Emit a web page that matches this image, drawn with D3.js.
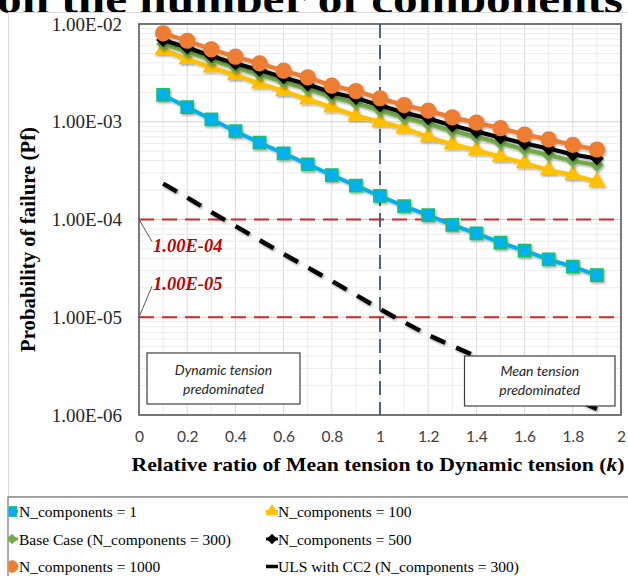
<!DOCTYPE html>
<html>
<head>
<meta charset="utf-8">
<script src="https://cdn.jsdelivr.net/npm/d3@7"></script>
<style>
  html, body { margin: 0; padding: 0; background: #fff; }
  svg { display: block; }
</style>
</head>
<body>
<svg id="chart" width="628" height="576"></svg>
<script>
// Relative ratio k = mean tension / dynamic tension
const kValues = [0.1, 0.2, 0.3, 0.4, 0.5, 0.6, 0.7, 0.8, 0.9, 1.0,
                 1.1, 1.2, 1.3, 1.4, 1.5, 1.6, 1.7, 1.8, 1.9];

// Probability of failure for each number of components
const pfN1    = [1.88e-3, 1.41e-3, 1.06e-3, 8.0e-4, 6.1e-4, 4.75e-4, 3.67e-4, 2.85e-4, 2.22e-4, 1.74e-4,
                 1.37e-4, 1.11e-4, 8.8e-5, 7.2e-5, 5.8e-5, 4.8e-5, 3.9e-5, 3.3e-5, 2.7e-5];
const pfN100  = [5.42e-3, 4.39e-3, 3.61e-3, 3.01e-3, 2.47e-3, 2.06e-3, 1.70e-3, 1.41e-3, 1.15e-3, 1.0e-3,
                 8.6e-4, 7.0e-4, 5.9e-4, 5.1e-4, 4.4e-4, 3.76e-4, 3.21e-4, 2.85e-4, 2.44e-4];
const pfBase  = [6.24e-3, 5.23e-3, 4.28e-3, 3.59e-3, 3.04e-3, 2.55e-3, 2.16e-3, 1.79e-3, 1.55e-3, 1.30e-3,
                 1.105e-3, 9.48e-4, 8.04e-4, 6.98e-4, 6.06e-4, 5.20e-4, 4.57e-4, 3.97e-4, 3.61e-4];
const pfN500  = [6.86e-3, 5.75e-3, 4.71e-3, 3.94e-3, 3.38e-3, 2.84e-3, 2.40e-3, 1.99e-3, 1.75e-3, 1.47e-3,
                 1.24e-3, 1.08e-3, 9.15e-4, 7.95e-4, 6.90e-4, 5.99e-4, 5.32e-4, 4.62e-4, 4.21e-4];
const pfN1000 = [8.03e-3, 6.74e-3, 5.51e-3, 4.63e-3, 3.96e-3, 3.33e-3, 2.85e-3, 2.34e-3, 2.06e-3, 1.74e-3,
                 1.48e-3, 1.30e-3, 1.11e-3, 9.8e-4, 8.6e-4, 7.4e-4, 6.6e-4, 5.8e-4, 5.2e-4];
const pfULS   = [2.33e-4, 1.68e-4, 1.19e-4, 8.58e-5, 6.16e-5, 4.43e-5, 3.23e-5, 2.35e-5, 1.69e-5, 1.21e-5,
                 8.9e-6, 6.58e-6, 5.08e-6, 3.97e-6, 3.10e-6, 2.42e-6, 1.89e-6, 1.49e-6, 1.15e-6];

const seriesNames = ["N_components = 1", "N_components = 100", "Base Case (N_components = 300)",
                     "N_components = 500", "N_components = 1000", "ULS with CC2 (N_components = 300)"];

// Target reliability thresholds
const thresholdValues = [1e-4, 1e-5];
const thresholdLabels = ["1.00E-04", "1.00E-05"];

// Axis ticks
const xTickValues = [0, 0.2, 0.4, 0.6, 0.8, 1, 1.2, 1.4, 1.6, 1.8, 2];
const xTickLabels = ["0", "0.2", "0.4", "0.6", "0.8", "1", "1.2", "1.4", "1.6", "1.8", "2"];
const yTickValues = [1e-2, 1e-3, 1e-4, 1e-5, 1e-6];
const yTickLabels = ["1.00E-02", "1.00E-03", "1.00E-04", "1.00E-05", "1.00E-06"];

const kSplit = 1;
const regionLabels = [["Dynamic tension", "predominated"], ["Mean tension", "predominated"]];

const titleText = "on the number of components";
const xTitle = "Relative ratio of Mean tension to Dynamic tension (";
const yTitle = "Probability of failure (Pf)";

// ---------------------------------------------------------------------------
const SERIF = "'Liberation Serif', 'Times New Roman', serif";
const SANS = "Lato, 'Open Sans', sans-serif";

const svg = d3.select("#chart");
const plot = { left: 139, right: 621, top: 24, bottom: 415 };

const x = d3.scaleLinear().domain([0, 2]).range([plot.left, plot.right]);
const y = d3.scaleLog().domain([1e-6, 1e-2]).range([plot.bottom, plot.top]);

const defs = svg.append("defs");
const shadow = defs.append("filter").attr("id", "shadow")
  .attr("x", "-20%").attr("y", "-20%").attr("width", "140%").attr("height", "140%");
shadow.append("feDropShadow").attr("dx", 1.2).attr("dy", 1.5)
  .attr("stdDeviation", 1.1).attr("flood-color", "#000").attr("flood-opacity", 0.35);

// Heading line above the chart
svg.append("text")
  .attr("x", -3).attr("y", 13)
  .attr("font-family", SERIF).attr("font-weight", "bold").attr("font-size", 42)
  .attr("textLength", 626).attr("lengthAdjust", "spacingAndGlyphs")
  .attr("fill", "#000")
  .text(titleText);

// Chart frame
svg.append("rect")
  .attr("x", 8.5).attr("y", 12.5).attr("width", 700).attr("height", 484)
  .attr("fill", "#fff").attr("stroke", "#d9d9d9").attr("stroke-width", 1);

// Gridlines
const grid = svg.append("g");
const xMinor = d3.range(1, 20).map(i => i / 10);
grid.selectAll("line.vx").data(xMinor).join("line")
  .attr("x1", d => x(d)).attr("x2", d => x(d))
  .attr("y1", plot.top).attr("y2", plot.bottom)
  .attr("stroke", (d, i) => (i % 2 === 1) ? "#d9d9d9" : "#ececec")
  .attr("stroke-width", 1);

const yMinor = y.ticks().filter(v => !yTickValues.some(t => Math.abs(t - v) / t < 1e-6));
grid.selectAll("line.hy").data(yMinor).join("line")
  .attr("x1", plot.left).attr("x2", plot.right)
  .attr("y1", d => y(d)).attr("y2", d => y(d))
  .attr("stroke", "#ececec").attr("stroke-width", 1);
grid.selectAll("line.hmaj").data(yTickValues).join("line")
  .attr("x1", plot.left).attr("x2", plot.right)
  .attr("y1", d => y(d)).attr("y2", d => y(d))
  .attr("stroke", "#d0d0d0").attr("stroke-width", 1);

// Plot border
svg.append("rect")
  .attr("x", plot.left).attr("y", plot.top)
  .attr("width", plot.right - plot.left).attr("height", plot.bottom - plot.top)
  .attr("fill", "none").attr("stroke", "#595959").attr("stroke-width", 1.6);

// Axes
const yAxis = svg.append("g")
  .attr("transform", `translate(${plot.left},0)`)
  .call(d3.axisLeft(y).tickValues(yTickValues).tickSize(0).tickPadding(17)
    .tickFormat((d, i) => yTickLabels[i]));
yAxis.select(".domain").remove();
yAxis.selectAll("text").attr("font-family", SERIF).attr("font-size", 19).attr("fill", "#262626");

const xAxis = svg.append("g")
  .attr("transform", `translate(0,${plot.bottom})`)
  .call(d3.axisBottom(x).tickValues(xTickValues).tickSize(0).tickPadding(16)
    .tickFormat((d, i) => xTickLabels[i]));
xAxis.select(".domain").remove();
xAxis.selectAll("text").attr("font-family", SANS).attr("font-size", 15.5).attr("fill", "#404040");

// Axis titles
const xt = svg.append("text")
  .attr("x", 378).attr("y", 471).attr("text-anchor", "middle")
  .attr("font-family", SERIF).attr("font-weight", "bold").attr("font-size", 19.5)
  .attr("textLength", 493).attr("lengthAdjust", "spacingAndGlyphs");
xt.append("tspan").text(xTitle);
xt.append("tspan").attr("font-style", "italic").text("k");
xt.append("tspan").text(")");

svg.append("text")
  .attr("transform", "translate(35,239.5) rotate(-90)")
  .attr("text-anchor", "middle")
  .attr("font-family", SERIF).attr("font-weight", "bold").attr("font-size", 20)
  .attr("textLength", 225).attr("lengthAdjust", "spacingAndGlyphs")
  .text(yTitle);

// Threshold lines
const thr = svg.append("g");
thr.selectAll("line").data(thresholdValues).join("line")
  .attr("x1", x(0)).attr("x2", x(2))
  .attr("y1", d => y(d)).attr("y2", d => y(d))
  .attr("stroke", "#d42424").attr("stroke-width", 2.2)
  .attr("stroke-dasharray", "15,8");

// Boundary between tension regimes
svg.append("line")
  .attr("x1", x(kSplit)).attr("x2", x(kSplit))
  .attr("y1", plot.top).attr("y2", plot.bottom)
  .attr("stroke", "#44546a").attr("stroke-width", 1.8)
  .attr("stroke-dasharray", "14,7");

// Threshold labels with leader lines
const labelOffsets = [{ dx: 14, dy: 26 }, { dx: 14, dy: -33 }];
thresholdValues.forEach((v, i) => {
  const px = x(0), py = y(v);
  const lx = px + labelOffsets[i].dx, ly = py + labelOffsets[i].dy;
  svg.append("line")
    .attr("x1", px).attr("y1", py)
    .attr("x2", lx - 1).attr("y2", ly + (i === 0 ? -4 : 2))
    .attr("stroke", "#595959").attr("stroke-width", 1);
  svg.append("text")
    .attr("x", lx).attr("y", ly + 6)
    .attr("font-family", SERIF).attr("font-weight", "bold").attr("font-style", "italic")
    .attr("font-size", 18.5).attr("fill", "#c00000")
    .text(thresholdLabels[i]);
});

// Series
const series = [
  { name: seriesNames[0], values: pfN1, color: "#00b0f0", marker: "square", mstroke: "#1fbf6a", width: 4 },
  { name: seriesNames[1], values: pfN100, color: "#ffc000", marker: "triangle", mstroke: "#ffc000", width: 4.2 },
  { name: seriesNames[2], values: pfBase, color: "#70ad47", marker: "diamond", mstroke: "#70ad47", width: 4.2 },
  { name: seriesNames[3], values: pfN500, color: "#000000", marker: "diamond", mstroke: "#000000", width: 4.2 },
  { name: seriesNames[4], values: pfN1000, color: "#ed7d31", marker: "circle", mstroke: "#ed7d31", width: 4.2 },
  { name: seriesNames[5], values: pfULS, color: "#000000", marker: "none", mstroke: "none", width: 4.5, dash: "16,12" }
];

function markerPath(type, scale) {
  const s = scale || 1;
  if (type === "square") return d3.symbol(d3.symbolSquare, 150 * s)();
  if (type === "triangle") return d3.symbol(d3.symbolTriangle, 95 * s)();
  if (type === "diamond") return d3.symbol(d3.symbolSquare, 68 * s)();
  if (type === "circle") return d3.symbol(d3.symbolCircle, 170 * s)();
  return null;
}

const line = d3.line().x(d => x(d.k)).y(d => y(d.v));

series.forEach(s => {
  const pts = kValues.map((k, i) => ({ k, v: s.values[i] }));
  const g = svg.append("g").attr("filter", "url(#shadow)");
  g.append("path").datum(pts)
    .attr("d", line)
    .attr("fill", "none").attr("stroke", s.color).attr("stroke-width", s.width)
    .attr("stroke-linejoin", "round")
    .attr("stroke-dasharray", s.dash || null);
  if (s.marker !== "none") {
    g.selectAll("path.m").data(pts).join("path")
      .attr("class", "m")
      .attr("d", markerPath(s.marker))
      .attr("transform", d => `translate(${x(d.k)},${y(d.v)})` + (s.marker === "diamond" ? " rotate(45)" : ""))
      .attr("fill", s.color).attr("stroke", s.mstroke).attr("stroke-width", 1.5);
  }
});

// Regime annotation boxes
const boxes = [
  { x: 147, y: 353, w: 153, h: 51, lines: regionLabels[0], b1: 375, b2: 394 },
  { x: 464.5, y: 356, w: 150.5, h: 50, lines: regionLabels[1], b1: 376, b2: 395 }
];
boxes.forEach(b => {
  svg.append("rect")
    .attr("x", b.x).attr("y", b.y).attr("width", b.w).attr("height", b.h)
    .attr("fill", "#fff").attr("stroke", "#404040").attr("stroke-width", 1.2);
  [b.b1, b.b2].forEach((by, j) => {
    svg.append("text")
      .attr("x", b.x + b.w / 2).attr("y", by).attr("text-anchor", "middle")
      .attr("font-family", SANS).attr("font-style", "italic").attr("font-size", 14)
      .attr("fill", "#262626")
      .text(b.lines[j]);
  });
});

// Legend
svg.append("rect")
  .attr("x", 8).attr("y", 497).attr("width", 700).attr("height", 120)
  .attr("fill", "#fff").attr("stroke", "#7f7f7f").attr("stroke-width", 1.3);

const legendOrder = [0, 1, 2, 3, 4, 5];
const legendPos = [
  { cx: 12, tx: 19, by: 517 }, { cx: 272, tx: 278, by: 517 },
  { cx: 12, tx: 19, by: 544.5 }, { cx: 272, tx: 278, by: 544.5 },
  { cx: 12, tx: 19, by: 572 }, { cx: 272, tx: 278, by: 572 }
];
const legendClip = defs.append("clipPath").attr("id", "legclip");
legendClip.append("rect").attr("x", 8.6).attr("y", 497).attr("width", 700).attr("height", 120);
const leg = svg.append("g").attr("clip-path", "url(#legclip)");
legendOrder.forEach((si, i) => {
  const s = series[si], p = legendPos[i];
  const cy = p.by - 5.5;
  leg.append("line")
    .attr("x1", p.cx - 6).attr("x2", p.cx + 6).attr("y1", cy).attr("y2", cy)
    .attr("stroke", s.color).attr("stroke-width", s.marker === "none" ? 3.5 : 3);
  if (s.marker !== "none") {
    leg.append("path")
      .attr("d", markerPath(s.marker, 0.62))
      .attr("transform", `translate(${p.cx},${cy})` + (s.marker === "diamond" ? " rotate(45)" : ""))
      .attr("fill", s.color).attr("stroke", s.mstroke).attr("stroke-width", 1);
  }
  svg.append("text")
    .attr("x", p.tx).attr("y", p.by)
    .attr("font-family", SERIF).attr("font-size", 15.5).attr("fill", "#000")
    .text(s.name);
});
</script>
</body>
</html>
